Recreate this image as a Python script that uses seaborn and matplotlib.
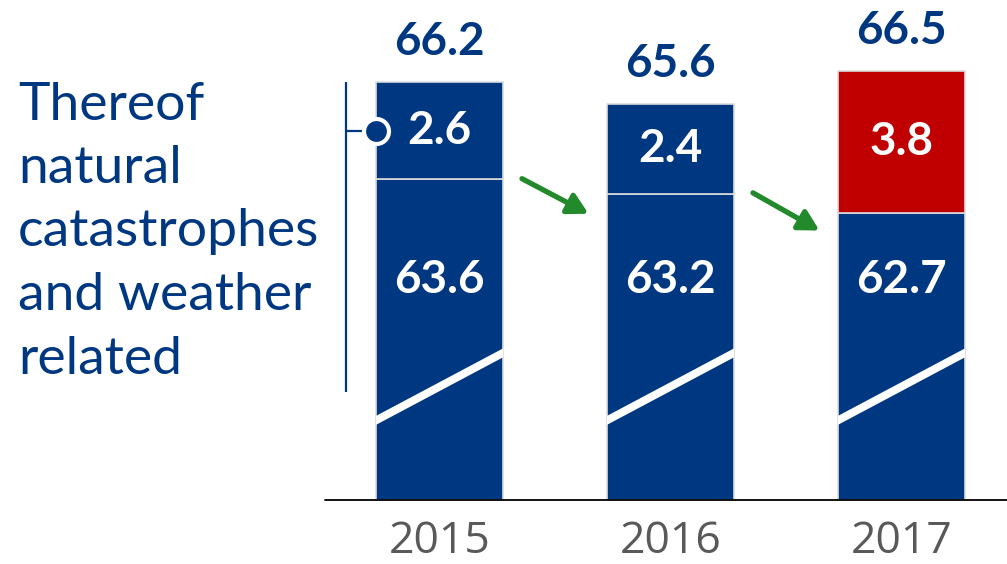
import matplotlib
matplotlib.use("Agg")
import matplotlib.pyplot as plt
import seaborn as sns
import pandas as pd

# Claims figures (EUR bn)
years = ["2015", "2016", "2017"]
base_values = [63.6, 63.2, 62.7]       # excluding natural catastrophes
natcat_values = [2.6, 2.4, 3.8]        # natural catastrophes and weather related
totals = [66.2, 65.6, 66.5]
natcat_colors = ["#003781", "#003781", "#c00000"]

NAVY = "#003781"
GREEN = "#228a2a"
GREY = "#595959"
EDGE = "#dcdcdc"
AXIS_FLOOR = 55.0   # truncated value axis starts here

sns.set_theme(style="white")
plt.rcParams["font.family"] = ["Lato", "DejaVu Sans"]

df = pd.DataFrame({"year": years, "base": base_values, "natcat": natcat_values, "total": totals})
df["base_height"] = df["base"] - AXIS_FLOOR

fig = plt.figure(figsize=(10.07, 5.64), dpi=100)
ax = fig.add_axes([0, 0, 1, 1])

bar_w = 0.55
sns.barplot(data=df, x="year", y="base_height", bottom=AXIS_FLOOR, width=bar_w,
            color=NAVY, saturation=1, edgecolor=EDGE, linewidth=1.2, ax=ax, zorder=2)
n0 = len(ax.patches)
sns.barplot(data=df, x="year", y="natcat", bottom=df["base"].values, width=bar_w,
            color=NAVY, saturation=1, edgecolor=EDGE, linewidth=1.2, ax=ax, zorder=2)
for patch, c in zip(ax.patches[n0:], natcat_colors):
    patch.set_facecolor(c)

ax.set_xlim(-1.903, 2.457)
ax.set_ylim(53.28, 68.4)
ax.axis("off")

# baseline
ax.axhline(AXIS_FLOOR, xmin=325 / 1007, xmax=1, color="black", lw=1.3, zorder=3)

# axis-break bands across each bar
half = bar_w / 2
for i in range(len(years)):
    x0, x1 = i - half, i + half
    y0, y1 = 57.13, 58.94
    h = 0.12
    ax.fill([x0, x1, x1, x0], [y0 - h, y1 - h, y1 + h, y0 + h], color="white", lw=0, zorder=4)

# labels
for i, (b, n, t) in enumerate(zip(base_values, natcat_values, totals)):
    ax.annotate(f"{t:.1f}", (i, t), xytext=(0, 29), textcoords="offset points",
                ha="center", va="center", fontsize=33, fontweight="bold", color=NAVY)
    ax.text(i, b + n / 2, f"{n:.1f}", ha="center", va="center", fontsize=33,
            fontweight="bold", color="white", zorder=5)
    ax.text(i, 60.9, f"{b:.1f}", ha="center", va="center", fontsize=33,
            fontweight="bold", color="white", zorder=5)
    ax.text(i, 53.88, years[i], ha="center", va="center", fontsize=32, color=GREY,
            family=["Open Sans", "DejaVu Sans"])

# trend arrows between years
arrow_starts = [(0.357, 63.61), (1.357, 63.23)]
arrow_ends = [(0.645, 62.67), (1.645, 62.22)]
for s, e in zip(arrow_starts, arrow_ends):
    ax.annotate("", xy=e, xytext=s,
                arrowprops=dict(arrowstyle="-|>,head_length=1.0,head_width=0.55",
                                color=GREEN, lw=3.8, shrinkA=0, shrinkB=0), zorder=5)

# bracket marking the natural catastrophe share
bx = -0.405
ax.plot([bx, bx], [57.9, totals[0]], color=NAVY, lw=1.6, solid_capstyle="butt", zorder=3)
cy = base_values[0] + natcat_values[0] / 2
ax.plot([bx, -half], [cy, cy], color=NAVY, lw=1.6, zorder=3)
ax.plot([-half], [cy], marker="o", ms=18, mfc=NAVY, mec="white", mew=3, zorder=6,
        linestyle="none")

lines = ["Thereof", "natural", "catastrophes", "and weather", "related"]
baselines_px = [120, 183, 246, 310, 374]
for txt, by in zip(lines, baselines_px):
    fig.text(18 / 1007, 1 - by / 564, txt, ha="left", va="baseline", fontsize=38.5, color=NAVY)

fig.savefig("out.png", dpi=100)
